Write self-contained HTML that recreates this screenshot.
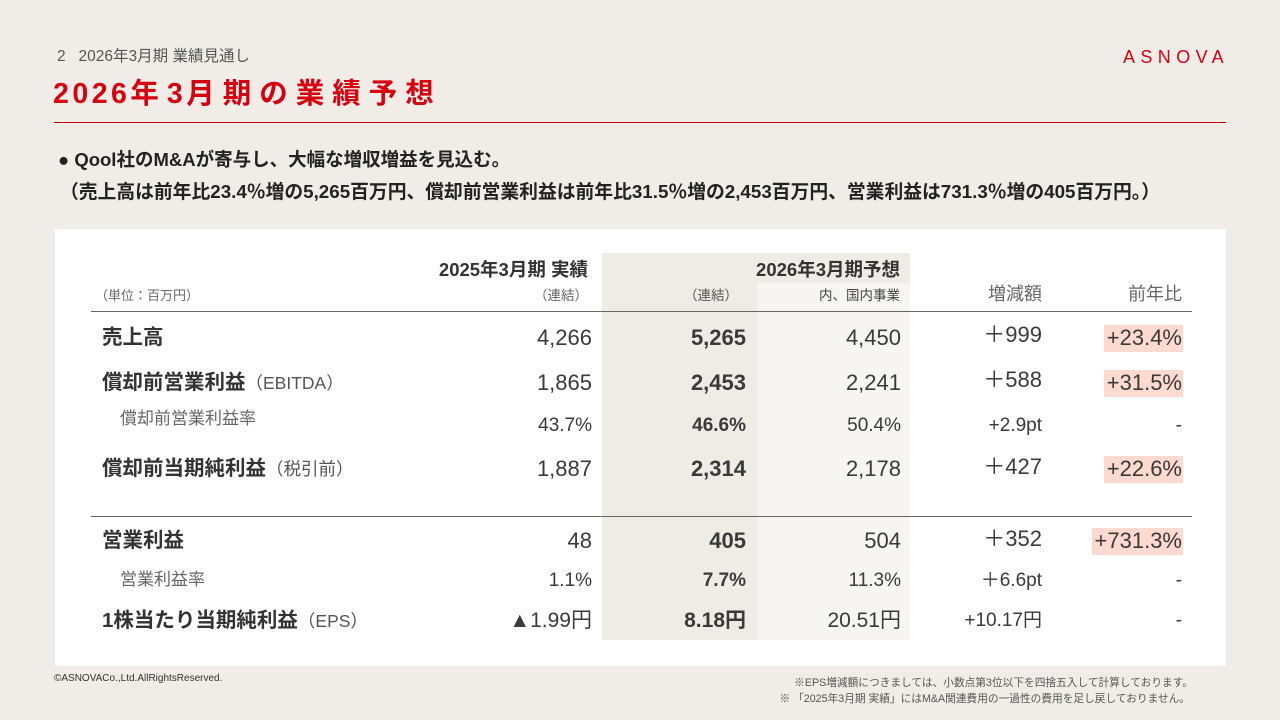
<!DOCTYPE html>
<html lang="ja">
<head>
<meta charset="utf-8">
<style>
  html,body{margin:0;padding:0;}
  body{width:1280px;height:720px;position:relative;overflow:hidden;background:#f0ede8;
    font-family:"Liberation Sans","Noto Sans CJK JP",sans-serif;color:#333;}
  .a{position:absolute;white-space:nowrap;height:30px;line-height:30px;}
  .r{text-align:right;}
  .v{font-size:22px;color:#3a3a3a;}
  .vb{font-size:22px;font-weight:bold;color:#3a3a3a;}
  .s{font-size:19px;color:#3a3a3a;}
  .sb{font-size:19px;font-weight:bold;color:#3a3a3a;}
  .lab{font-size:20.5px;font-weight:bold;color:#333;}
  .lab span{font-size:17.5px;font-weight:normal;color:#555;}
  .sub{font-size:17px;color:#666;}
  .hl{position:absolute;background:#fcdacf;}
  .d{letter-spacing:3.5px;}
  .c{letter-spacing:8px;}
</style>
</head>
<body>
  <!-- header -->
  <div class="a" style="left:57px;top:42px;font-size:15.5px;color:#555;">2&nbsp;&nbsp;&nbsp;2026年3月期 業績見通し</div>
  <div class="a" style="left:1123px;top:42px;font-size:18px;color:#d7000f;letter-spacing:5.4px;">ASNOVA</div>
  <div class="a" style="left:53px;top:76px;height:36px;line-height:36px;font-size:28.5px;font-weight:bold;color:#d7000f;"><span class="d">2026</span><span class="c">年</span><span class="d">3</span><span class="c">月期の業績予想</span></div>
  <div style="position:absolute;left:54px;top:122px;width:1172px;height:1px;background:#c00000;"></div>

  <div class="a" style="left:58px;top:145px;font-size:18.5px;font-weight:bold;color:#222;">● Qool社のM&amp;Aが寄与し、大幅な増収増益を見込む。</div>
  <div class="a" style="left:60px;top:177px;font-size:18.8px;font-weight:bold;color:#222;">（売上高は前年比23.4％増の5,265百万円、償却前営業利益は前年比31.5％増の2,453百万円、営業利益は731.3％増の405百万円。）</div>

  <!-- panel -->
  <div style="position:absolute;left:55px;top:229px;width:1171px;height:437px;background:#fff;"></div>
  <div style="position:absolute;left:602px;top:253px;width:308px;height:30px;background:#efebe5;"></div>
  <div style="position:absolute;left:602px;top:283px;width:155px;height:357px;background:#efebe5;"></div>
  <div style="position:absolute;left:757px;top:283px;width:153px;height:357px;background:#f7f5f2;"></div>

  <!-- highlights -->
  <div class="hl" style="left:1104px;top:325px;width:79px;height:27px;"></div>
  <div class="hl" style="left:1104px;top:370px;width:79px;height:27px;"></div>
  <div class="hl" style="left:1104px;top:456px;width:79px;height:27px;"></div>
  <div class="hl" style="left:1092px;top:528px;width:91px;height:27px;"></div>

  <!-- lines -->
  <div style="position:absolute;left:91px;top:311px;width:1101px;height:1px;background:#666;"></div>
  <div style="position:absolute;left:91px;top:516px;width:1101px;height:1px;background:#666;"></div>

  <!-- headers -->
  <div class="a r" style="right:692px;top:255px;font-size:18.5px;font-weight:bold;color:#333;">2025年3月期 実績</div>
  <div class="a r" style="right:380px;top:255px;font-size:18.5px;font-weight:bold;color:#333;">2026年3月期予想</div>
  <div class="a" style="left:95px;top:281px;font-size:13px;color:#666;">（単位：百万円）</div>
  <div class="a r" style="right:692px;top:281px;font-size:13.5px;color:#666;">（連結）</div>
  <div class="a r" style="right:542px;top:281px;font-size:13.5px;color:#555;">（連結）</div>
  <div class="a r" style="right:380px;top:281px;font-size:13.5px;color:#444;">内、国内事業</div>
  <div class="a r" style="right:238px;top:279px;font-size:18px;color:#666;">増減額</div>
  <div class="a r" style="right:98px;top:279px;font-size:18px;color:#666;">前年比</div>

  <!-- row 1 -->
  <div class="a lab" style="left:102px;top:323px;">売上高</div>
  <div class="a r v" style="right:688px;top:323px;">4,266</div>
  <div class="a r vb" style="right:534px;top:323px;">5,265</div>
  <div class="a r v" style="right:379px;top:323px;">4,450</div>
  <div class="a r v" style="right:238px;top:320px;">＋999</div>
  <div class="a r v" style="right:98px;top:323px;">+23.4%</div>

  <!-- row 2 -->
  <div class="a lab" style="left:102px;top:368px;">償却前営業利益<span>（EBITDA）</span></div>
  <div class="a r v" style="right:688px;top:368px;">1,865</div>
  <div class="a r vb" style="right:534px;top:368px;">2,453</div>
  <div class="a r v" style="right:379px;top:368px;">2,241</div>
  <div class="a r v" style="right:238px;top:365px;">＋588</div>
  <div class="a r v" style="right:98px;top:368px;">+31.5%</div>

  <!-- row 3 -->
  <div class="a sub" style="left:120px;top:404px;">償却前営業利益率</div>
  <div class="a r s" style="right:688px;top:411px;">43.7%</div>
  <div class="a r sb" style="right:534px;top:411px;">46.6%</div>
  <div class="a r s" style="right:379px;top:411px;">50.4%</div>
  <div class="a r s" style="right:238px;top:411px;">+2.9pt</div>
  <div class="a r s" style="right:98px;top:411px;">-</div>

  <!-- row 4 -->
  <div class="a lab" style="left:102px;top:454px;">償却前当期純利益<span>（税引前）</span></div>
  <div class="a r v" style="right:688px;top:454px;">1,887</div>
  <div class="a r vb" style="right:534px;top:454px;">2,314</div>
  <div class="a r v" style="right:379px;top:454px;">2,178</div>
  <div class="a r v" style="right:238px;top:452px;">＋427</div>
  <div class="a r v" style="right:98px;top:454px;">+22.6%</div>

  <!-- row 5 -->
  <div class="a lab" style="left:102px;top:526px;">営業利益</div>
  <div class="a r v" style="right:688px;top:526px;">48</div>
  <div class="a r vb" style="right:534px;top:526px;">405</div>
  <div class="a r v" style="right:379px;top:526px;">504</div>
  <div class="a r v" style="right:238px;top:524px;">＋352</div>
  <div class="a r v" style="right:98px;top:526px;">+731.3%</div>

  <!-- row 6 -->
  <div class="a sub" style="left:120px;top:565px;">営業利益率</div>
  <div class="a r s" style="right:688px;top:566px;">1.1%</div>
  <div class="a r sb" style="right:534px;top:566px;">7.7%</div>
  <div class="a r s" style="right:379px;top:566px;">11.3%</div>
  <div class="a r s" style="right:238px;top:566px;">＋6.6pt</div>
  <div class="a r s" style="right:98px;top:566px;">-</div>

  <!-- row 7 -->
  <div class="a lab" style="left:102px;top:606px;">1株当たり当期純利益<span>（EPS）</span></div>
  <div class="a r s" style="right:688px;top:606px;font-size:21px;">▲1.99円</div>
  <div class="a r sb" style="right:534px;top:606px;font-size:21px;">8.18円</div>
  <div class="a r s" style="right:379px;top:606px;font-size:21px;">20.51円</div>
  <div class="a r s" style="right:238px;top:606px;">+10.17円</div>
  <div class="a r s" style="right:98px;top:606px;">-</div>

  <!-- footer -->
  <div class="a" style="left:54px;top:664px;font-size:10px;color:#333;">©ASNOVACo.,Ltd.AllRightsReserved.</div>
  <div class="a r" style="right:87px;top:668px;font-size:10.7px;color:#555;">※EPS増減額につきましては、小数点第3位以下を四捨五入して計算しております。</div>
  <div class="a r" style="right:90px;top:684px;font-size:10.7px;color:#555;">※ 「2025年3月期 実績」にはM&amp;A関連費用の一過性の費用を足し戻しておりません。</div>
</body>
</html>
